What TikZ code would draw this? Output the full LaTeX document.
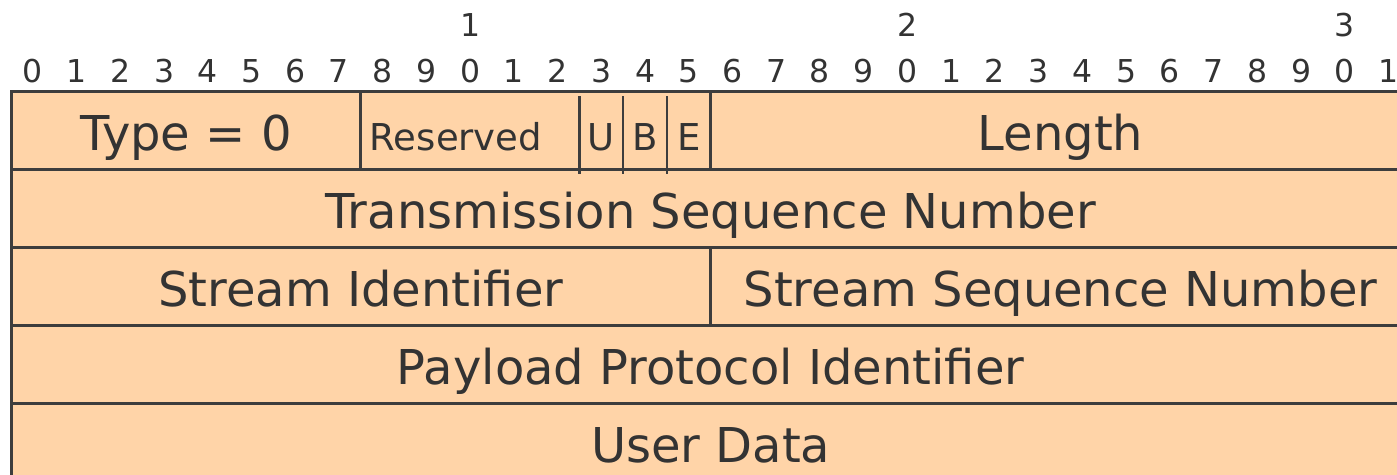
\documentclass[tikz,border=0pt]{standalone}
\usepackage{fontspec}
\setmainfont{DejaVu Sans}
\definecolor{fieldfill}{HTML}{FFD4A8}
\definecolor{rule}{HTML}{3D3D3D}
\definecolor{ink}{HTML}{333333}
\begin{document}
\begin{tikzpicture}[x=1pt,y=-1pt,
  field/.style={draw=rule,line width=3pt,fill=fieldfill,inner sep=0pt,outer sep=0pt,
                anchor=north west,minimum height=78pt},
  big/.style={anchor=base,text=ink,font=\fontsize{48}{56}\selectfont,inner sep=0pt},
  small/.style={anchor=base,text=ink,font=\fontsize{37}{44}\selectfont,inner sep=0pt},
  bitnum/.style={anchor=base,text=ink,font=\fontsize{31.5}{36}\selectfont,inner sep=0pt},
  flagrule/.style={draw=rule,line width=2.2pt}]
\useasboundingbox (0,0) rectangle (1397,474);
\clip (0,0) rectangle (1397,474);
% one bit is 43.73 units wide, bit 0 starts at x = 11
\def\bw{43.73}
\def\xo{11}
% row 1
\node[field,minimum width=8*\bw] (type) at (\xo,91) {};
\node[field,minimum width=8*\bw] (resv) at ({\xo+8*\bw},91) {};
\node[field,minimum width=16*\bw] (len) at ({\xo+16*\bw},91) {};
% row 2
\node[field,minimum width=32*\bw] (tsn) at (\xo,169) {};
% row 3
\node[field,minimum width=16*\bw] (sid) at (\xo,247) {};
\node[field,minimum width=16*\bw] (ssn) at ({\xo+16*\bw},247) {};
% row 4
\node[field,minimum width=32*\bw] (ppid) at (\xo,325) {};
% row 5
\node[field,minimum width=32*\bw] (data) at (\xo,403) {};
% flag separators (U, B, E)
\foreach \b in {13,14,15}{
  \coordinate (ft\b) at ({\xo+\b*\bw},96);
  \coordinate (fb\b) at ({\xo+\b*\bw},174);
  \draw[flagrule] (ft\b) -- (fb\b);
}
% field labels
\node[big] (ltype) at ({\xo+4*\bw},150) {Type = 0};
\node[small] (lresv) at (456,150) {Reserved};
\node[small] (lu) at ({\xo+13.5*\bw},150) {U};
\node[small] (lb) at ({\xo+14.5*\bw},150) {B};
\node[small] (le) at ({\xo+15.5*\bw},150) {E};
\node[big] (llen) at ({\xo+24*\bw},150) {Length};
\node[big] (ltsn) at ({\xo+16*\bw},228) {Transmission Sequence Number};
\node[big] (lsid) at ({\xo+8*\bw},306) {Stream Identifier};
\node[big] (lssn) at ({\xo+24*\bw},306) {Stream Sequence Number};
\node[big] (lppid) at ({\xo+16*\bw},384) {Payload Protocol Identifier};
\node[big] (ldata) at ({\xo+16*\bw},462) {User Data};
% bit ruler
\foreach \i in {0,...,31}{
  \pgfmathtruncatemacro{\u}{mod(\i,10)}
  \node[bitnum] (b\i) at ({\xo+(\i+0.5)*\bw},82) {\u};
}
\foreach \t in {1,2,3}{
  \node[bitnum] (t\t) at ({\xo+(10*\t+0.5)*\bw},36) {\t};
}
\end{tikzpicture}
\end{document}
